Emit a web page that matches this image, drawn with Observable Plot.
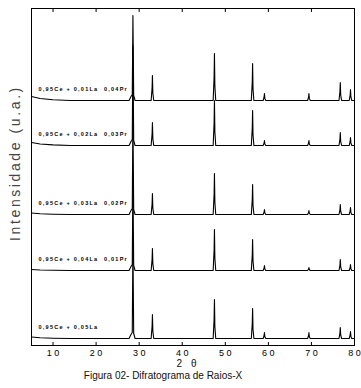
<!DOCTYPE html>
<html>
<head>
<meta charset="utf-8">
<script src="https://cdn.jsdelivr.net/npm/d3@7"></script>
<script src="https://cdn.jsdelivr.net/npm/@observablehq/plot@0.6"></script>
<style>
  body { margin: 0; background: #fff; width: 361px; height: 388px; position: relative; overflow: hidden; font-family: "Liberation Sans", Arial, sans-serif; }
  .cap { position: absolute; white-space: nowrap; color: #111; font-size: 10px; line-height: 10px; text-align: center; }
</style>
</head>
<body>
<div id="chart"></div>
<div class="cap" style="left:163px; width:50px; top:359px; letter-spacing:3px;">2 θ</div>
<div class="cap" style="left:63px; width:200px; top:371px;">Figura 02- Difratograma de Raios-X</div>
<script>
// Peak positions (2θ)
const peakAngles = [28.55, 33.08, 47.48, 56.34, 59.09, 69.42, 76.70, 79.07];
// Series, bottom to top
const seriesLabels = [
  "0,95Ce + 0,05La",
  "0,95Ce + 0,04La  0,01Pr",
  "0,95Ce + 0,03La  0,02Pr",
  "0,95Ce + 0,02La  0,03Pr",
  "0,95Ce + 0,01La  0,04Pr"
];
// Vertical offset (baseline intensity, u.a.) of each stacked pattern
const baselines = [7, 75, 131, 200, 245];
// Peak heights above baseline for each series (same order as peakAngles)
const peakHeights = [
  [95, 24, 39, 30, 6, 6, 11, 7],
  [95, 22, 41, 31, 5, 3, 11, 6],
  [100, 21, 41, 30, 5, 4, 10, 7],
  [100, 23, 45, 35, 5, 5, 13, 8],
  [85, 25, 47, 37, 7, 7, 18, 11]
];
// Low-angle background rise at the left edge
const lowAngleRise = [1.5, 1, 1.5, 3, 4];
const bgAngles = [5, 7, 10, 14];
const bgFraction = [1, 0.5, 0.2, 0];
const xTicks = [10, 20, 30, 40, 50, 60, 70, 80];
const yLabel = "Intensidade (u.a.)";

// Build line vertices from the read values
const rows = [];
seriesLabels.forEach((label, i) => {
  const b = baselines[i];
  const pts = [];
  bgAngles.forEach((a, k) => pts.push([a, b + lowAngleRise[i] * bgFraction[k]]));
  peakAngles.forEach((t, j) => {
    const h = peakHeights[i][j];
    if (j === 0) {
      pts.push([t - 0.9, b], [t - 0.45, b + 4], [t - 0.15, b + 6], [t, b + h], [t + 0.18, b + 5], [t + 0.5, b]);
    } else {
      pts.push([t - 0.3, b], [t - 0.08, b + 0.5 * h], [t, b + h], [t + 0.1, b + 0.3 * h], [t + 0.3, b]);
    }
  });
  pts.push([80, b]);
  pts.sort((p, q) => p[0] - q[0]);
  pts.forEach(([theta, v]) => rows.push({series: label, theta, v}));
});
const labelRows = seriesLabels.map((label, i) => ({label, base: baselines[i]}));

const plot = Plot.plot({
  width: 361,
  height: 358,
  marginLeft: 31,
  marginRight: 7,
  marginTop: 8,
  marginBottom: 13,
  style: {fontFamily: "Liberation Sans, Arial, sans-serif", background: "#fff", color: "#000"},
  x: {domain: [5, 80]},
  y: {domain: [0, 337], axis: null},
  marks: [
    Plot.line(rows, {x: "theta", y: "v", z: "series", stroke: "#000", strokeWidth: 1.1}),
    Plot.frame({stroke: "#000", strokeWidth: 1}),
    Plot.axisX({anchor: "bottom", ticks: xTicks, tickSize: 3, dy: -3, tickFormat: () => "", label: null}),
    Plot.axisX({anchor: "top", ticks: xTicks, tickSize: 3, dy: 3, tickFormat: () => "", label: null}),
    Plot.axisX({anchor: "bottom", ticks: xTicks, tickSize: 0, tickPadding: 4, fontSize: 9,
      tickFormat: d => String(d).split("").join(" "), label: null}),
    Plot.text(labelRows, {y: "base", text: "label", frameAnchor: "left", dx: 7, dy: -11,
      textAnchor: "start", fontSize: 5.5, fontWeight: "bold", fill: "#000"}),
    Plot.text([yLabel], {text: d => d, frameAnchor: "left", textAnchor: "middle", rotate: -90, dx: -16, dy: -14,
      fontSize: 14, fill: "#444"})
  ]
});
document.getElementById("chart").appendChild(plot);

const svg = d3.select(plot);
svg.selectAll("text").filter(function() { return this.textContent === yLabel; })
  .attr("letter-spacing", "2.6px");
svg.selectAll("text").filter(function() { return seriesLabels.includes(this.textContent); })
  .attr("letter-spacing", "1.25px");
</script>
</body>
</html>
